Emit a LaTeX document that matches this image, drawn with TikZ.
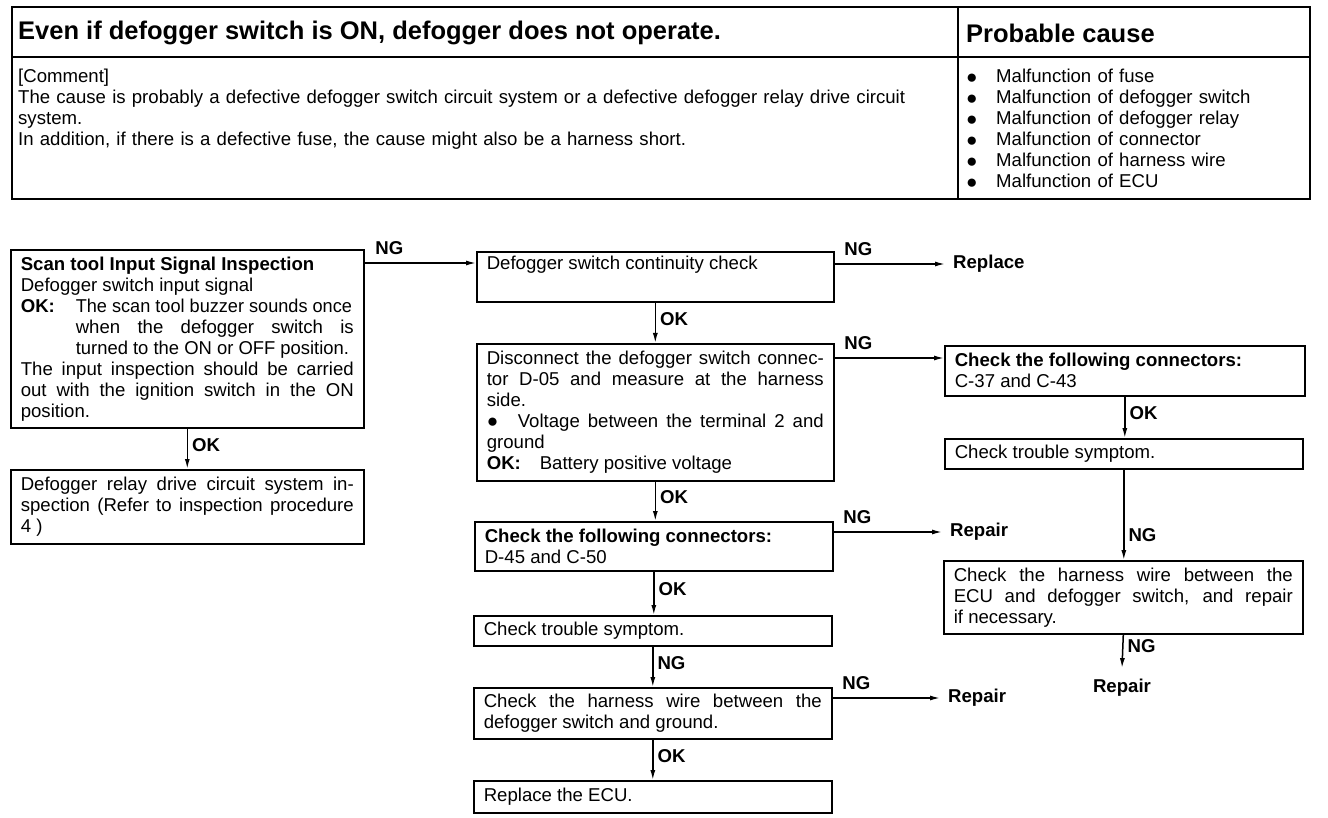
\documentclass[tikz,border=0pt]{standalone}
\usepackage{fontspec}
\usepackage{graphicx}
\setmainfont{Liberation Sans}
\usetikzlibrary{arrows.meta,positioning}
\hfuzz=20pt
\newcommand{\bodyfont}{\fontsize{18.6}{21}\selectfont}
\newcommand{\headfont}{\fontsize{25.5}{30}\selectfont\bfseries}
\newcommand{\dotmark}{\raisebox{-0.3pt}{\fontsize{19}{19}\selectfont ●}}
\newcommand{\cause}[1]{\makebox[30pt][l]{\dotmark}Malfunction of #1}
\newcommand{\tight}[2]{\scalebox{#1}[1]{#2}}
\tikzset{
  stepbox/.style={draw, line width=1.6pt, anchor=north west, inner xsep=10pt,
    inner ysep=4pt, align=justify, font=\bodyfont},
  arr/.style={-{Latex[length=10pt,width=5pt]}, line width=1.5pt},
  tag/.style={font=\bodyfont\bfseries, inner sep=1pt},
  result/.style={font=\bodyfont\bfseries, inner xsep=8pt, inner ysep=1pt, anchor=west}
}
\begin{document}
\begin{tikzpicture}[x=1pt, y=-1pt]
\useasboundingbox (0,0) rectangle (1328,818);
% trouble table
\draw[line width=2.2pt] (12,7) rectangle (1310,199);
\draw[line width=1.5pt] (12,57) -- (1310,57);
\draw[line width=1.5pt] (958,7) -- (958,199);
\node[anchor=west, font=\headfont, inner sep=0pt] (symptom) at (18,33)
  {Even if defogger switch is ON, defogger does not operate.};
\node[anchor=west, font=\headfont, inner sep=0pt] (causehead) at (966,33) {Probable cause};
\node[anchor=base west, font=\bodyfont, text width=940pt, align=left, inner sep=0pt] (comment) at (18,83)
  {[Comment]\\
   The cause is probably a defective defogger switch circuit system or a defective defogger relay drive circuit\\
   system.\\
   In addition, if there is a defective fuse, the cause might also be a harness short.};
\node[anchor=base west, font=\bodyfont, text width=335pt, align=left, inner sep=0pt] (causes) at (966,83)
  {\cause{fuse}\\ \cause{defogger switch}\\ \cause{defogger relay}\\
   \cause{connector}\\ \cause{harness wire}\\ \cause{ECU}};

% left column
\node[stepbox, text width=333pt, minimum height=178pt] (scan) at (10,249)
  {\textbf{Scan tool Input Signal Inspection}\\
   Defogger switch input signal\par
   \hangindent=55pt\hangafter=1\noindent\makebox[55pt][l]{\textbf{OK:}}\tight{0.975}{The scan tool buzzer sounds once}\linebreak
   when the defogger switch is\linebreak \tight{0.99}{turned to the ON or OFF position.}\par
   \noindent The input inspection should be carried\linebreak out with the ignition switch in the ON\linebreak position.};
\node[stepbox, text width=333pt, minimum height=74pt] (relay) at (10,469)
  {Defogger relay drive circuit system in-\linebreak spection (Refer to inspection procedure\linebreak 4 )};

% middle column
\node[stepbox, text width=337pt, minimum height=50pt, text depth=28pt] (cont) at (476,251)
  {Defogger switch continuity check};
\node[stepbox, text width=337pt, minimum height=137pt] (volt) at (476,343)
  {Disconnect the defogger switch connec-\linebreak tor D-05 and measure at the harness\linebreak side.\par
   \hangindent=31pt\hangafter=1\noindent\makebox[31pt][l]{\dotmark}Voltage between the terminal 2 and\linebreak
   ground\newline \makebox[53pt][l]{\textbf{OK:}}Battery positive voltage};
\node[stepbox, text width=338pt, minimum height=49pt] (conn) at (474,521)
  {\textbf{Check the following connectors:}\\ D-45 and C-50};
\node[stepbox, text width=338pt, minimum height=30pt] (sym) at (473,615)
  {Check trouble symptom.};
\node[stepbox, text width=338pt, minimum height=51pt] (gnd) at (473,687)
  {Check the harness wire between the\linebreak defogger switch and ground.};
\node[stepbox, text width=338pt, minimum height=32pt] (ecu) at (473,780)
  {Replace the ECU.};

% right column
\node[stepbox, text width=340pt, minimum height=50pt] (conn2) at (944,345)
  {\textbf{Check the following connectors:}\\ C-37 and C-43};
\node[stepbox, text width=338pt, minimum height=30pt] (sym2) at (944,438)
  {Check trouble symptom.};
\node[stepbox, text width=339pt, minimum height=73pt] (wire) at (943,560)
  {Check the harness wire between the\linebreak ECU and defogger switch, and repair\linebreak if necessary.};

% results
\node[result] (replace) at (945,264) {Replace};
\node[result] (repair1) at (942,532) {Repair};
\node[result] (repair2) at (940,698) {Repair};
\node[result, anchor=center, inner ysep=11pt] (repair3) at (1122,688) {Repair};

% connectors
\path ([yshift=-14pt]scan.north east) coordinate (scanng);
\draw[arr] (scanng) -- node[tag, pos=0, above right=7pt and 9pt] {NG} (scanng -| cont.west);
\draw[arr] (scan.south) -- node[tag, pos=0.4, right=3pt] {OK} (relay.north);
\path ([yshift=-13pt]cont.north east) coordinate (contng);
\draw[arr] (contng) -- node[tag, pos=0, above right=7pt and 8pt] {NG} (replace.west);
\draw[arr] (cont.south) -- node[tag, pos=0.4, right=3pt] {OK} (volt.north);
\path ([yshift=-15pt]volt.north east) coordinate (voltng);
\draw[arr] (voltng) -- node[tag, pos=0, above right=7pt and 8pt] {NG} (voltng -| conn2.west);
\draw[arr] (volt.south) -- node[tag, pos=0.4, right=3pt] {OK} (volt.south |- conn.north);
\path ([yshift=-11pt]conn.north east) coordinate (connng);
\draw[arr] (connng) -- node[tag, pos=0, above right=7pt and 8pt] {NG} (connng -| repair1.west);
\draw[arr] (conn.south) -- node[tag, pos=0.4, right=3pt] {OK} (conn.south |- sym.north);
\draw[arr] (sym.south) -- node[tag, pos=0.4, right=3pt] {NG} (gnd.north);
\path ([yshift=-11pt]gnd.north east) coordinate (gndng);
\draw[arr] (gndng) -- node[tag, pos=0, above right=7pt and 8pt] {NG} (gndng -| repair2.west);
\draw[arr] (gnd.south) -- node[tag, pos=0.4, right=3pt] {OK} (ecu.north);
\draw[arr] (conn2.south) -- node[tag, pos=0.4, right=3pt] {OK} (conn2.south |- sym2.north);
\draw[arr] (sym2.south) -- node[tag, pos=0.72, right=3pt] {NG} (sym2.south |- wire.north);
\draw[arr] (wire.south) -- node[tag, pos=0.35, right=3pt] {NG} (repair3.north);
\end{tikzpicture}
\end{document}
